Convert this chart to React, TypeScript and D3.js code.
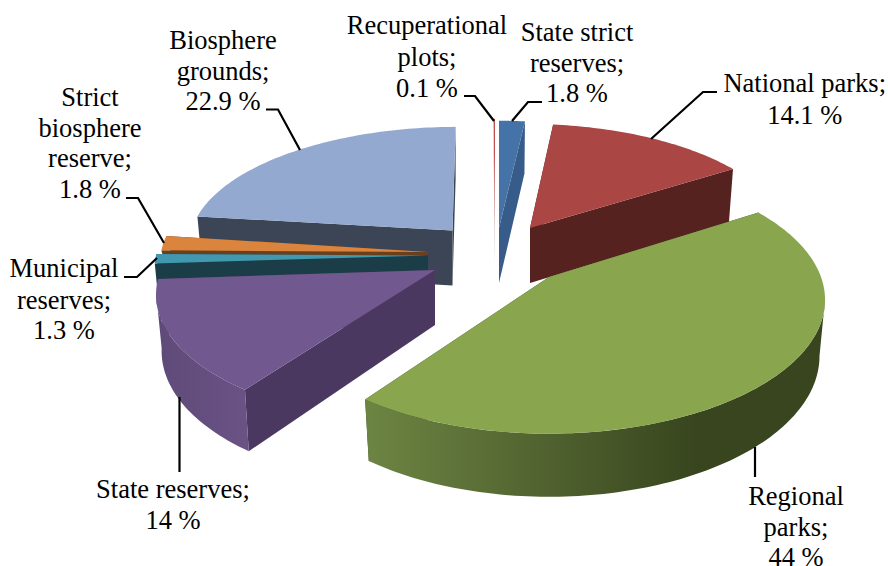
import React from "react";
import * as d3 from "d3";

const categories = ["State strict reserves","National parks","Regional parks","State reserves","Municipal reserves","Strict biosphere reserve","Biosphere grounds","Recuperational plots"];
const shares = [1.8,14.1,44,14,1.3,1.8,22.9,0.1];
const topColors = ["#4573A7","#AA4643","#89A54E","#71588F","#4198AF","#DB843D","#93A9CF","#C0504D"];
const edgeColors = ["#375C8A","#552220","#3A4720","#4B3860","#1B3D47","#6B3F1C","#3C4556","#C8B8B8"];
const arcFrom = ["#375C8A","#552220","#6D8543","#5E4A78","#1B3D47","#6B3F1C","#3C4556","#C8B8B8"];
const arcTo = ["#375C8A","#552220","#38451E","#6A5285","#1B3D47","#6B3F1C","#3C4556","#C8B8B8"];

// projection of each exploded slice: apex, half axes, perspective, lean
const apexX = [499,530,549,435,428,428,452.5,495];
const apexY = [228,228,277,270,255.5,252,230.5,226];
const axisA = [253,258,272,274,272,267,261,253];
const axisB = [118,115.5,130,127,115,130,114,118];
const persp = [0.1,0.11,0.17,0.17,0.1,0.1,0.1,0.1];
const lean = [0,-0.03,0,0.04,0,0,0.045,0];
const depth = [55,55,55,55,55,20,55,40];
// painting order, back to front
const order = [6,5,4,3,7,0,1,2];

type Label = {lines:string[]; x:number; y:number[]; leader:[number,number][]};
const labels: Label[] = [
  {lines:["State strict","reserves;","1.8 %"],x:577,y:[40.7,71.7,101.7],leader:[[542,102],[528,102],[512,121]]},
  {lines:["National parks;","14.1 %"],x:804.7,y:[92.3,124],leader:[[717,92],[703,92],[651,139]]},
  {lines:["Regional","parks;","44 %"],x:796,y:[505,535.7,566],leader:[[755,447],[755,477]]},
  {lines:["State reserves;","14 %"],x:173,y:[497.7,529],leader:[[179.5,397],[179.5,472]]},
  {lines:["Municipal","reserves;","1.3 %"],x:64,y:[277,309,339],leader:[[124,277],[137,277],[157,258]]},
  {lines:["Strict","biosphere","reserve;","1.8 %"],x:90,y:[106,136.7,166.7,198],leader:[[126,198],[138,198],[164,243]]},
  {lines:["Biosphere","grounds;","22.9 %"],x:223,y:[49,79.5,110],leader:[[266,109.5],[278,109.5],[300,150]]},
  {lines:["Recuperational","plots;","0.1 %"],x:427,y:[34.3,66,97],leader:[[464,96],[475,96],[494,121]]},
];

const pie = d3.pie<number>().sort(null).value(d=>d).startAngle(0).endAngle(2*Math.PI);
const arcs = pie(shares);
const line = d3.line<[number,number]>();

function project(i:number,a:number,r:number,z:number):[number,number]{
  const w = 1+persp[i]*r*Math.cos(a);
  const s = 1-0.02*z;
  const px = axisA[i]*r*Math.sin(a)/w*s;
  const py = axisB[i]*r*Math.cos(a)/w*s;
  return [apexX[i]+px+lean[i]*py, apexY[i]-py+depth[i]*z/w];
}
function samples(a0:number,a1:number):number[]{
  const n = Math.max(2,Math.ceil((a1-a0)/0.02));
  return d3.range(n+1).map(k=>a0+(a1-a0)*k/n);
}
function topPath(i:number,a0:number,a1:number){
  const pts = [project(i,0,0,0),...samples(a0,a1).map(a=>project(i,a,1,0))];
  return line(pts)+"Z";
}
function sidePath(i:number,a:number){
  return line([project(i,0,0,0),project(i,a,1,0),project(i,a,1,1),project(i,0,0,1)])+"Z";
}
function bandPath(i:number,a0:number,a1:number){
  const s = samples(a0,a1);
  return line([...s.map(a=>project(i,a,1,0)),...s.slice().reverse().map(a=>project(i,a,1,1))])+"Z";
}

export default function App(){
  return (
    <svg width={888} height={566} style={{position:"absolute",left:0,top:0,background:"#fff"}}
      fontFamily="'Liberation Serif'" fontSize={26.5}>
      <defs>
        {categories.map((_,i)=>{
          const xs = samples(arcs[i].startAngle,arcs[i].endAngle).map(a=>project(i,a,1,0)[0]);
          const lo = Math.min(...xs), hi = Math.max(...xs);
          const grad = i===2 ? [0,0.72,1] : [0,1];
          const cols = i===2 ? [arcFrom[i],arcTo[i],arcTo[i]] : [arcFrom[i],arcTo[i]];
          return (
            <linearGradient key={i} id={`g${i}`} gradientUnits="userSpaceOnUse" x1={lo} x2={hi} y1={0} y2={0}>
              {grad.map((o,k)=><stop key={k} offset={o} stopColor={cols[k]}/>)}
            </linearGradient>
          );
        })}
      </defs>
      {order.map(i=>{
        const {startAngle:a0,endAngle:a1} = arcs[i];
        const tangent = Math.acos(-persp[i]);
        const f0 = Math.max(a0,tangent), f1 = Math.min(a1,2*Math.PI-tangent);
        return (
          <g key={i}>
            <path d={sidePath(i,a0)} fill={edgeColors[i]}/>
            <path d={sidePath(i,a1)} fill={edgeColors[i]}/>
            {f1>f0 && <path d={bandPath(i,f0,f1)} fill={`url(#g${i})`}/>}
            <path d={topPath(i,a0,a1)} fill={topColors[i]}/>
          </g>
        );
      })}
      {labels.map((l,i)=>(
        <g key={i}>
          <path d={line(l.leader)!} fill="none" stroke="#000" strokeWidth={2.2}/>
          {l.lines.map((t,k)=><text key={k} x={l.x} y={l.y[k]} textAnchor="middle" fill="#000">{t}</text>)}
        </g>
      ))}
    </svg>
  );
}
